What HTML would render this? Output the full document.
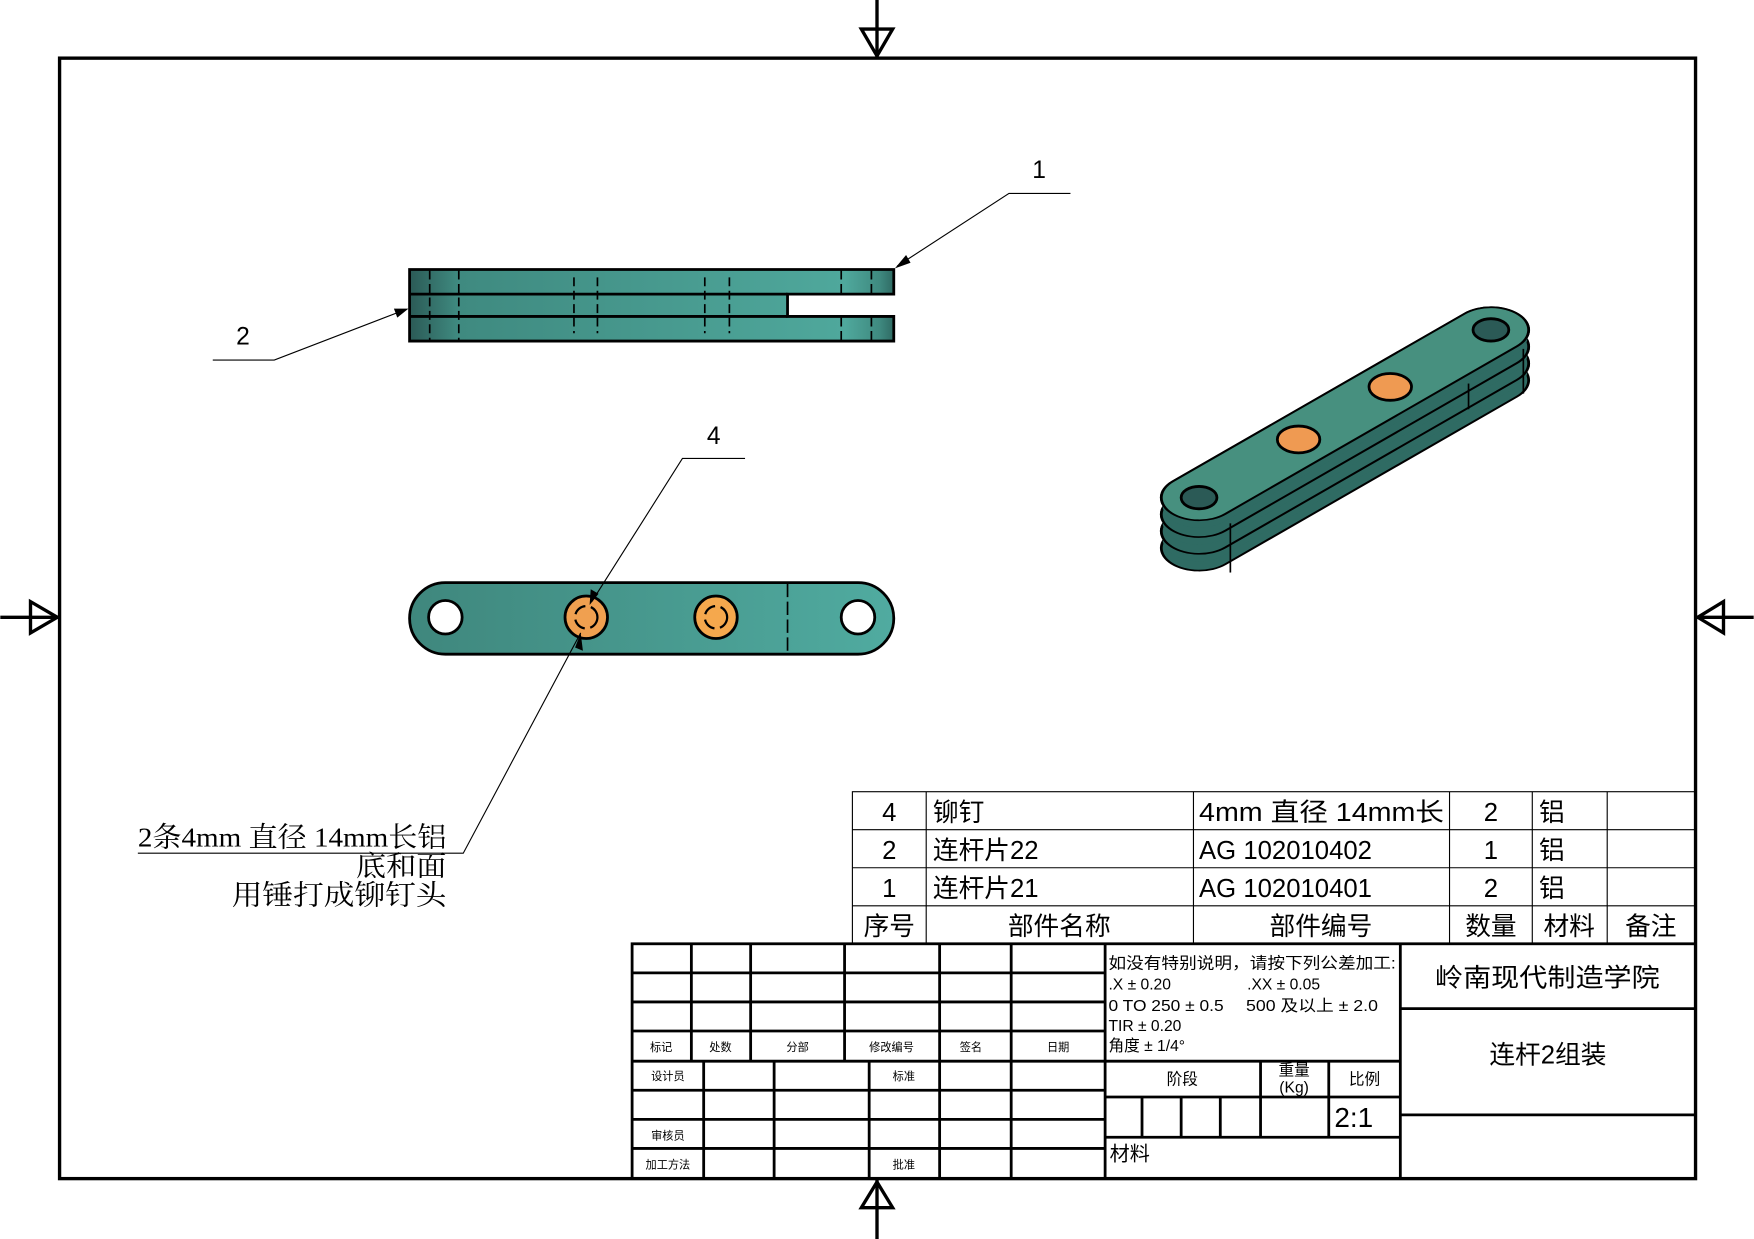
<!DOCTYPE html>
<html><head><meta charset="utf-8"><style>
html,body{margin:0;padding:0;background:#fff;}
svg{display:block;}
text{font-family:"Liberation Sans","Noto Sans CJK SC",sans-serif;fill:#000;}
.s{font-family:"Liberation Serif","Noto Serif CJK SC",serif;}
</style></head><body>
<svg width="1754" height="1239" viewBox="0 0 1568 1108" xmlns="http://www.w3.org/2000/svg">
<defs>
<linearGradient id="tg" x1="0" x2="1" y1="0" y2="0">
<stop offset="0" stop-color="#2b5a56"/><stop offset="0.1" stop-color="#3f8a80"/><stop offset="0.9" stop-color="#4fa89c"/><stop offset="0.97" stop-color="#3f8a80"/><stop offset="1" stop-color="#2f6b63"/></linearGradient>
<linearGradient id="fg" x1="0" x2="1"><stop offset="0" stop-color="#3f877d"/><stop offset="1" stop-color="#50aba0"/></linearGradient>
</defs>
<rect width="1568" height="1108" fill="#fff"/>
<rect x="53" y="52" width="1463" height="1002" fill="none" stroke="#000" stroke-width="3"/>
<g stroke="#000" stroke-width="3" fill="none">
<line x1="784" y1="0" x2="784" y2="52"/><polygon points="770,26 798,26 784,50"/>
<line x1="784" y1="1054" x2="784" y2="1108"/><polygon points="770,1080 798,1080 784,1057"/>
<line x1="0" y1="552" x2="53" y2="552"/><polygon points="27,538 27,566 51,552"/>
<line x1="1516" y1="552" x2="1568" y2="552"/><polygon points="1541,538 1541,566 1518,552"/>
</g>
<!-- top view -->
<g stroke="#000">
<path d="M366,241 H799 V263 H704 V283 H799 V305 H366 Z" fill="url(#tg)" stroke-width="2.5"/>
<line x1="366" y1="263" x2="704" y2="263" stroke-width="2.5"/>
<line x1="366" y1="283" x2="704" y2="283" stroke-width="2.5"/>
<g stroke-width="1.5" stroke-dasharray="8,4" fill="none">
<line x1="384" y1="242" x2="384" y2="304"/><line x1="410" y1="242" x2="410" y2="304"/>
<line x1="752" y1="242" x2="752" y2="262"/><line x1="779" y1="242" x2="779" y2="262"/>
<line x1="752" y1="284" x2="752" y2="304"/><line x1="779" y1="284" x2="779" y2="304"/>
<path d="M513,248 V298 M534,248 V298 M630,248 V298 M652,248 V298"/>
</g>
</g>
<!-- front view -->
<g stroke="#000">
<rect x="366" y="521" width="433" height="64" rx="32" fill="url(#fg)" stroke-width="2.5"/>
<line x1="704" y1="522" x2="704" y2="584" stroke-width="1.5" stroke-dasharray="12,4"/>
<circle cx="398" cy="552" r="15" fill="#fff" stroke-width="2.5"/>
<circle cx="767" cy="552" r="15" fill="#fff" stroke-width="2.5"/>
<circle cx="524" cy="552" r="19" fill="#f0a050" stroke-width="2.5"/>
<circle cx="640" cy="552" r="19" fill="#f5a84d" stroke-width="2.5"/>
<circle cx="524" cy="552" r="10" fill="none" stroke-width="2" stroke-dasharray="12,5"/>
<circle cx="640" cy="552" r="10" fill="none" stroke-width="2" stroke-dasharray="12,5"/>
</g>
<!-- iso view (scaled y by 0.6) -->
<g transform="scale(1,0.6)" stroke-linecap="round">
<line x1="1072" y1="816.7" x2="1333" y2="566.7" stroke="#000" stroke-width="70"/>
<line x1="1072" y1="791.7" x2="1333" y2="541.7" stroke="#000" stroke-width="70"/>
<line x1="1072" y1="816.7" x2="1333" y2="566.7" stroke="#2f6b63" stroke-width="65"/>
<line x1="1072" y1="804" x2="1333" y2="554" stroke="#2f6b63" stroke-width="65"/>
<line x1="1072" y1="791.7" x2="1333" y2="541.7" stroke="#000" stroke-width="70"/>
<line x1="1072" y1="766.7" x2="1333" y2="516.7" stroke="#000" stroke-width="70"/>
<line x1="1072" y1="791.7" x2="1333" y2="541.7" stroke="#2f6b63" stroke-width="65"/>
<line x1="1072" y1="779" x2="1333" y2="529" stroke="#2f6b63" stroke-width="65"/>
<line x1="1072" y1="766.7" x2="1333" y2="516.7" stroke="#000" stroke-width="70"/>
<line x1="1072" y1="741.7" x2="1333" y2="491.7" stroke="#000" stroke-width="70"/>
<line x1="1072" y1="766.7" x2="1333" y2="516.7" stroke="#2f6b63" stroke-width="65"/>
<line x1="1072" y1="754" x2="1333" y2="504" stroke="#2f6b63" stroke-width="65"/>
<line x1="1072" y1="741.7" x2="1333" y2="491.7" stroke="#000" stroke-width="70"/>
<line x1="1072" y1="741.7" x2="1333" y2="491.7" stroke="#47907f" stroke-width="65"/>
</g>
<g stroke="#000" stroke-width="1.5" fill="none">
<line x1="1100" y1="468" x2="1100" y2="512"/>
<line x1="1362" y1="312" x2="1362" y2="352"/>
<line x1="1313" y1="343" x2="1313" y2="366"/>
</g>
<ellipse cx="1072" cy="445" rx="16" ry="10" fill="#2b5a56" stroke="#000" stroke-width="2.5"/>
<ellipse cx="1333" cy="295" rx="16" ry="10" fill="#2b5a56" stroke="#000" stroke-width="2.5"/>
<ellipse cx="1161" cy="393" rx="19" ry="12" fill="#ef9a52" stroke="#000" stroke-width="2.5"/>
<ellipse cx="1243" cy="346" rx="19" ry="12" fill="#ef9a52" stroke="#000" stroke-width="2.5"/>
<!-- leaders -->
<g stroke="#000" stroke-width="1" fill="none">
<polyline points="957,173 902,173 802,238"/>
<polyline points="190,322 245,322 362,277"/>
<polyline points="666,410 610,410 529,538"/>
<polyline points="519,566 414,763 123,763"/>
</g>
<g fill="#000">
<polygon points="800,240 810,228 814,235"/>
<polygon points="365,276 352,276 355,284"/>
<polygon points="527,541 528,527 535,531"/>
<polygon points="519,566 514,579 521,582"/>
</g>
<text x="929" y="159" font-size="22" text-anchor="middle">1</text>
<text x="217" y="308" font-size="22" text-anchor="middle">2</text>
<text x="638" y="397" font-size="22" text-anchor="middle">4</text>
<text class="s" x="123" y="757" font-size="25" textLength="276" lengthAdjust="spacingAndGlyphs">2条4mm 直径 14mm长铝</text>
<text class="s" x="318" y="783" font-size="25" textLength="81" lengthAdjust="spacingAndGlyphs">底和面</text>
<text class="s" x="207" y="809" font-size="25" textLength="192" lengthAdjust="spacingAndGlyphs">用锤打成铆钉头</text>
<!-- BOM -->
<g stroke="#000" stroke-width="1" fill="none">
<rect x="762" y="708" width="754" height="136"/>
<line x1="762" y1="742" x2="1516" y2="742"/><line x1="762" y1="776" x2="1516" y2="776"/><line x1="762" y1="810" x2="1516" y2="810"/>
<line x1="828" y1="708" x2="828" y2="844"/><line x1="1067" y1="708" x2="1067" y2="844"/><line x1="1296" y1="708" x2="1296" y2="844"/><line x1="1370" y1="708" x2="1370" y2="844"/><line x1="1437" y1="708" x2="1437" y2="844"/>
</g>
<g font-size="23">
<text x="795" y="734" text-anchor="middle">4</text><text x="834" y="734">铆钉</text><text x="1072" y="734" textLength="219" lengthAdjust="spacingAndGlyphs">4mm 直径 14mm长</text><text x="1333" y="734" text-anchor="middle">2</text><text x="1376" y="734">铝</text>
<text x="795" y="768" text-anchor="middle">2</text><text x="834" y="768">连杆片22</text><text x="1072" y="768">AG 102010402</text><text x="1333" y="768" text-anchor="middle">1</text><text x="1376" y="768">铝</text>
<text x="795" y="802" text-anchor="middle">1</text><text x="834" y="802">连杆片21</text><text x="1072" y="802">AG 102010401</text><text x="1333" y="802" text-anchor="middle">2</text><text x="1376" y="802">铝</text>
<text x="795" y="836" text-anchor="middle">序号</text><text x="947" y="836" text-anchor="middle">部件名称</text><text x="1181" y="836" text-anchor="middle">部件编号</text><text x="1333" y="836" text-anchor="middle">数量</text><text x="1403" y="836" text-anchor="middle">材料</text><text x="1476" y="836" text-anchor="middle">备注</text>
</g>
<!-- title block -->
<g stroke="#000" stroke-width="2.5" fill="none">
<rect x="565" y="844" width="951" height="210"/>
<line x1="565" y1="870" x2="988" y2="870"/><line x1="565" y1="896" x2="988" y2="896"/><line x1="565" y1="922" x2="988" y2="922"/><line x1="565" y1="949" x2="1252" y2="949"/>
<line x1="565" y1="975" x2="988" y2="975"/><line x1="565" y1="1001" x2="988" y2="1001"/><line x1="565" y1="1027" x2="988" y2="1027"/>
<line x1="618" y1="844" x2="618" y2="949"/><line x1="671" y1="844" x2="671" y2="949"/><line x1="755" y1="844" x2="755" y2="949"/><line x1="840" y1="844" x2="840" y2="949"/><line x1="904" y1="844" x2="904" y2="949"/>
<line x1="629" y1="949" x2="629" y2="1054"/><line x1="692" y1="949" x2="692" y2="1054"/><line x1="777" y1="949" x2="777" y2="1054"/><line x1="840" y1="949" x2="840" y2="1054"/><line x1="904" y1="949" x2="904" y2="1054"/>
<line x1="988" y1="844" x2="988" y2="1054"/><line x1="1252" y1="844" x2="1252" y2="1054"/>
<line x1="988" y1="981" x2="1252" y2="981"/><line x1="988" y1="1017" x2="1252" y2="1017"/>
<line x1="1127" y1="949" x2="1127" y2="1017"/><line x1="1188" y1="949" x2="1188" y2="1017"/>
<line x1="1021" y1="981" x2="1021" y2="1017"/><line x1="1056" y1="981" x2="1056" y2="1017"/><line x1="1091" y1="981" x2="1091" y2="1017"/>
<line x1="1252" y1="902" x2="1516" y2="902"/><line x1="1252" y1="997" x2="1516" y2="997"/>
</g>
<g font-size="10" text-anchor="middle">
<text x="591" y="940">标记</text><text x="644" y="940">处数</text><text x="713" y="940">分部</text><text x="797" y="940">修改编号</text><text x="868" y="940">签名</text><text x="946" y="940">日期</text>
<text x="597" y="966">设计员</text><text x="808" y="966">标准</text><text x="597" y="1019">审核员</text><text x="597" y="1045">加工方法</text><text x="808" y="1045">批准</text>
</g>
<g font-size="14">
<text x="991" y="866" textLength="257" lengthAdjust="spacingAndGlyphs">如没有特别说明，请按下列公差加工:</text>
<text x="991" y="885">.X ± 0.20</text><text x="1115" y="885">.XX ± 0.05</text>
<text x="991" y="904" textLength="103" lengthAdjust="spacingAndGlyphs">0 TO 250 ± 0.5</text><text x="1114" y="904" textLength="118" lengthAdjust="spacingAndGlyphs">500 及以上 ± 2.0</text>
<text x="991" y="922">TIR ± 0.20</text><text x="991" y="940">角度 ± 1/4°</text>
<text x="1057" y="970" text-anchor="middle">阶段</text>
<text x="1157" y="962" text-anchor="middle">重量</text><text x="1157" y="977" text-anchor="middle">(Kg)</text>
<text x="1220" y="970" text-anchor="middle">比例</text>
</g>
<text x="1193" y="1008" font-size="25">2:1</text>
<text x="992" y="1038" font-size="18">材料</text>
<text x="1283" y="882" font-size="23" textLength="201" lengthAdjust="spacingAndGlyphs">岭南现代制造学院</text>
<text x="1384" y="951" font-size="23" text-anchor="middle">连杆2组装</text>
</svg>
</body></html>
